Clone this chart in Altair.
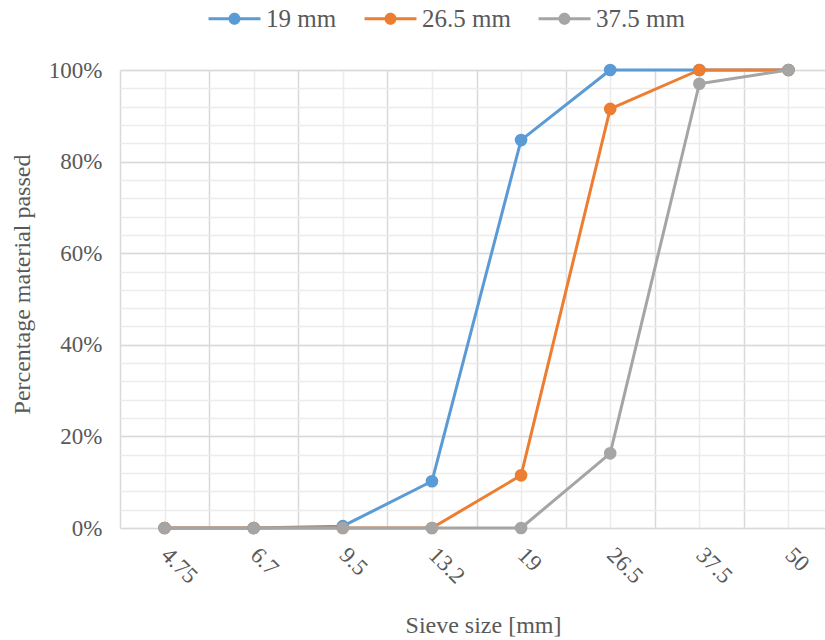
import altair as alt
import pandas as pd

# ---- data ----
sieves = ["4.75", "6.7", "9.5", "13.2", "19", "26.5", "37.5", "50"]
series_names = ["19 mm", "26.5 mm", "37.5 mm"]
pass_19 = [0, 0, 0.4, 10.2, 84.7, 100, 100, 100]
pass_265 = [0, 0, 0, 0, 11.5, 91.5, 100, 100]
pass_375 = [0, 0, 0, 0, 0, 16.3, 97.0, 100]
colors = ["#5B9BD5", "#ED7D31", "#A5A5A5"]
y_major = [0, 20, 40, 60, 80, 100]
y_minor = list(range(0, 101, 4))

rows = []
for name, vals in zip(series_names, [pass_19, pass_265, pass_375]):
    for i, (s, v) in enumerate(zip(sieves, vals)):
        rows.append({"series": name, "idx": i, "sieve": s, "passed": v})
df = pd.DataFrame(rows)

FONT = "Liberation Serif"
TXT = "#595959"
MAJOR = "#d9d9d9"
MINOR = "#ececec"

x_centers = list(range(len(sieves)))
x_bounds = [i - 0.5 for i in range(len(sieves) + 1)]
label_expr = "[" + ",".join(f"'{s}'" for s in sieves) + "][datum.value]"

x_scale = alt.Scale(domain=[-0.5, 7.41], nice=False, zero=False)
y_scale = alt.Scale(domain=[0, 100], nice=False)
color_scale = alt.Scale(domain=series_names, range=colors)

legend_path = ("M-4.33,-0.25H-0.9V0.25H-4.33Z M0.9,-0.25H4.33V0.25H0.9Z "
               "M1,0A1,1,0,1,1,-1,0A1,1,0,1,1,1,0Z")

base = alt.Chart(df)

x_axis_labels = alt.Axis(values=x_centers, labelExpr=label_expr, orient="bottom",
                         grid=True, gridColor=MINOR, gridWidth=1.5,
                         ticks=False, domain=False,
                         labelAngle=45, labelAlign="left", labelBaseline="middle",
                         labelPadding=23, labelFont=FONT, labelFontSize=23,
                         labelColor=TXT, title="Sieve size [mm]",
                         titleFont=FONT, titleFontSize=24, titleFontWeight="normal",
                         titleColor=TXT, titleX=363, titleY=97,
                         titleAlign="center", titleBaseline="middle")
y_axis_minor = alt.Axis(values=y_minor, orient="left", grid=True, gridColor=MINOR,
                        gridWidth=1.5, labels=False, ticks=False, domain=False,
                        title=None)

line_layers = []
for k, (name, col) in enumerate(zip(series_names, colors)):
    line_layers.append(
        base.transform_filter(alt.datum.series == name)
        .mark_line(color=col, strokeWidth=3, strokeJoin="round", strokeCap="round")
        .encode(
            x=alt.X("idx:Q", scale=x_scale, axis=x_axis_labels if k == 0 else None),
            y=alt.Y("passed:Q", scale=y_scale, axis=y_axis_minor if k == 0 else None),
            order="idx:Q",
        )
    )

points = base.mark_point(filled=True, size=160, opacity=1, shape="circle").encode(
    x=alt.X("idx:Q", scale=x_scale,
            axis=alt.Axis(values=x_bounds, orient="bottom", grid=True, gridColor=MAJOR,
                          gridWidth=1.5, labels=False, ticks=False, domain=False,
                          title=None)),
    y=alt.Y("passed:Q", scale=y_scale,
            axis=alt.Axis(values=y_major, orient="left", grid=True, gridColor=MAJOR,
                          gridWidth=1.5, ticks=False, domain=False,
                          labelExpr="datum.value + '%'", labelPadding=18,
                          labelFont=FONT, labelFontSize=23, labelColor=TXT,
                          title="Percentage material passed", titleFont=FONT,
                          titleFontSize=24, titleFontWeight="normal", titleColor=TXT,
                          titleX=-98, titleY=214, titleAngle=-90,
                          titleAlign="center", titleBaseline="middle")),
    color=alt.Color("series:N", scale=color_scale,
                    legend=alt.Legend(title=None, orient="none", legendX=102, legendY=-64,
                                      direction="horizontal", symbolType=legend_path,
                                      symbolSize=144, symbolStrokeWidth=0,
                                      symbolOpacity=1,
                                      labelFont=FONT, labelFontSize=25, labelColor=TXT,
                                      labelOffset=19, columnPadding=27, padding=0)),
)

chart = (
    alt.layer(*line_layers, points)
    .resolve_axis(x="independent", y="independent")
    .properties(width=705, height=458,
                autosize=alt.AutoSizeParams(type="none"),
                padding={"left": 120, "top": 70, "right": 0, "bottom": 112},
                background="white")
    .configure(font=FONT)
    .configure_legend(labelFont=FONT)
    .configure_view(stroke=None)
)

chart.save("out.html", embed_options={"renderer": "svg", "actions": False})
